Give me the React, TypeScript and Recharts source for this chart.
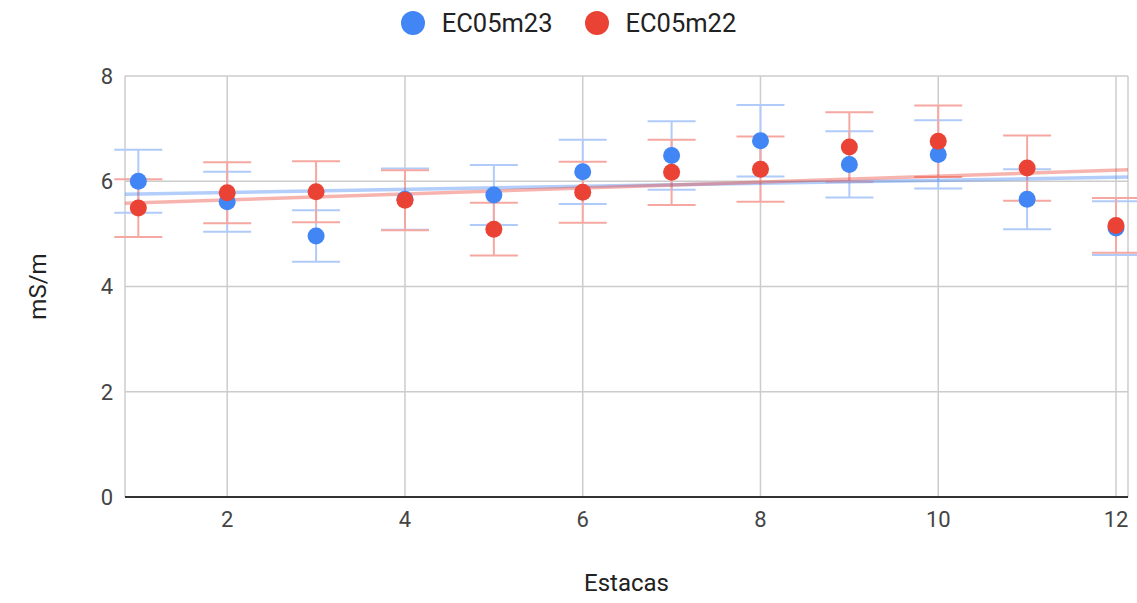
import {
  ScatterChart,
  Scatter,
  XAxis,
  YAxis,
  CartesianGrid,
  ErrorBar,
  Legend,
  Label,
} from "recharts";

const estacas = [1, 2, 3, 4, 5, 6, 7, 8, 9, 10, 11, 12];
const ec23 = [6.0, 5.61, 4.96, 5.66, 5.74, 6.18, 6.49, 6.77, 6.32, 6.51, 5.66, 5.11];
const ec23Err = [0.6, 0.57, 0.49, 0.58, 0.57, 0.61, 0.65, 0.68, 0.63, 0.65, 0.57, 0.51];
const ec22 = [5.49, 5.78, 5.8, 5.64, 5.09, 5.79, 6.17, 6.23, 6.65, 6.76, 6.25, 5.16];
const ec22Err = [0.55, 0.58, 0.58, 0.57, 0.5, 0.58, 0.62, 0.62, 0.66, 0.68, 0.62, 0.52];

const xTicks = [2, 4, 6, 8, 10, 12];
const yTicks = [0, 2, 4, 6, 8];
const xDomain: [number, number] = [0.85, 12.135];

const series = [
  { name: "EC05m23", values: ec23, errors: ec23Err, color: "#4285f4", bar: "#b0cbfa", trend: "rgba(66,133,244,0.4)" },
  { name: "EC05m22", values: ec22, errors: ec22Err, color: "#ea4335", bar: "#f5a8a1", trend: "rgba(234,67,53,0.4)" },
];

function toPoints(values: number[], errors: number[]) {
  return estacas.map((x, i) => ({ x, y: values[i], err: errors[i] }));
}

// least squares line over the full x domain
function trend(values: number[]) {
  const n = estacas.length;
  const mx = estacas.reduce((a, b) => a + b, 0) / n;
  const my = values.reduce((a, b) => a + b, 0) / n;
  let sxy = 0;
  let sxx = 0;
  estacas.forEach((x, i) => {
    sxy += (x - mx) * (values[i] - my);
    sxx += (x - mx) * (x - mx);
  });
  const slope = sxy / sxx;
  return xDomain.map((x) => ({ x, y: my + slope * (x - mx) }));
}

const font = "Roboto, 'Noto Sans', sans-serif";

function LegendContent() {
  return (
    <div style={{ display: "flex", justifyContent: "center", alignItems: "center", fontFamily: font, fontSize: 25.5, color: "#222" }}>
      {series.map((s, i) => (
        <div key={s.name} style={{ display: "flex", alignItems: "center", marginLeft: i ? 32 : 0 }}>
          <span style={{ width: 24, height: 24, borderRadius: 12, background: s.color, display: "inline-block", marginRight: 17 }} />
          <span>{s.name}</span>
        </div>
      ))}
    </div>
  );
}

export default function App() {
  return (
    <div style={{ position: "absolute", left: 0, top: 0, width: 1137, height: 603, background: "#fff" }}>
      <ScatterChart width={1137} height={603} margin={{ top: 76, right: 9, left: 0, bottom: 0 }}>
        <CartesianGrid stroke="#cccccc" strokeWidth={1.5} />
        <XAxis
          type="number"
          dataKey="x"
          domain={xDomain}
          ticks={xTicks}
          allowDataOverflow
          height={106}
          tickLine={false}
          tickSize={0}
          tickMargin={14}
          axisLine={{ stroke: "#333", strokeWidth: 2 }}
          tick={{ fontSize: 22, fill: "#444", fontFamily: font }}
        >
          <Label
            content={({ viewBox }: any) => (
              <text x={viewBox.x + viewBox.width / 2} y={583} textAnchor="middle" dominantBaseline="central" fontSize={24} fill="#222" fontFamily={font}>
                Estacas
              </text>
            )}
          />
        </XAxis>
        <YAxis
          type="number"
          dataKey="y"
          domain={[0, 8]}
          ticks={yTicks}
          width={125}
          tickLine={false}
          tickSize={0}
          tickMargin={12}
          axisLine={false}
          tick={{ fontSize: 22, fill: "#444", fontFamily: font }}
        >
          <Label
            content={({ viewBox }: any) => {
              const cy = viewBox.y + viewBox.height / 2;
              return (
                <text x={38} y={cy} transform={`rotate(-90 38 ${cy})`} textAnchor="middle" dominantBaseline="central" fontSize={24} fill="#222" fontFamily={font}>
                  mS/m
                </text>
              );
            }}
          />
        </YAxis>
        <Legend verticalAlign="middle" align="center" layout="horizontal" wrapperStyle={{ top: 8, left: 0, width: 1137 }} content={() => <LegendContent />} />
        {series.map((s) => (
          <Scatter
            key={s.name + "-trend"}
            data={trend(s.values)}
            line={{ stroke: s.trend, strokeWidth: 3.5 }}
            shape={() => <g />}
            legendType="none"
            isAnimationActive={false}
          />
        ))}
        {series.map((s) => (
          <Scatter
            key={s.name}
            name={s.name}
            data={toPoints(s.values, s.errors)}
            fill={s.color}
            shape={(p: any) => <circle cx={p.cx} cy={p.cy} r={8.5} fill={s.color} />}
            isAnimationActive={false}
          >
            <ErrorBar dataKey="err" direction="y" width={24} stroke={s.bar} strokeWidth={2} isAnimationActive={false} />
          </Scatter>
        ))}
      </ScatterChart>
    </div>
  );
}
